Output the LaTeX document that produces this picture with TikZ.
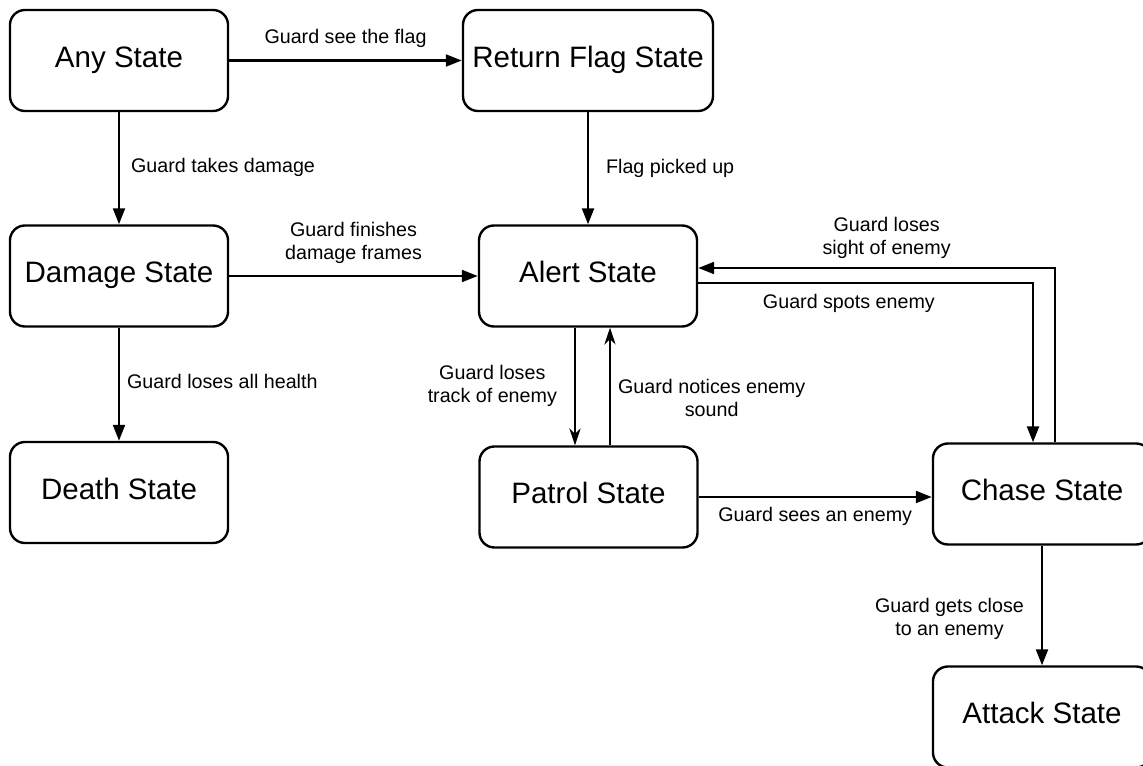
\documentclass[tikz,border=0pt]{standalone}
\usepackage{fontspec}
\setmainfont{Liberation Sans}
\usetikzlibrary{arrows.meta}
\tikzset{state/.style={draw, line width=1.7pt, rounded corners=0.375cm,
        minimum width=5.45cm, minimum height=2.525cm, inner sep=0pt,
        font=\fontsize{21}{25}\selectfont, text height=15pt, text depth=5.7pt},
    trans/.style={line width=1.6pt, -{Triangle[length=0.4cm,width=0.3cm]}},
    back/.style={line width=1.6pt, -{Stealth[length=0.42cm,width=0.28cm]}},
    lbl/.style={font=\fontsize{14}{16.6}\selectfont, align=center, inner sep=0pt},
    }
\begin{document}
\begin{tikzpicture}[x=0.025cm,y=-0.025cm]
	\useasboundingbox (0,0) rectangle (1143,766);
	\node[state] (any) at (119,60.5) {Any State};
	\node[state, minimum width=6.25cm] (ret) at (588,60.5) {Return Flag State};
	\node[state] (dmg) at (119,276) {Damage State};
	\node[state] (alert) at (588,276) {Alert State};
	\node[state] (death) at (119,492.5) {Death State};
	\node[state] (patrol) at (588.5,497) {Patrol State};
	\node[state] (chase) at (1042,494) {Chase State};
	\node[state] (attack) at (1042,717) {Attack State};
	% left column
	\draw[trans] (any) -- (ret)
		node[lbl, midway, anchor=base, yshift=0.42cm] {Guard see the flag};
	\draw[trans] (any) -- (dmg)
		node[lbl, midway, anchor=base west, xshift=0.275cm, yshift=-0.11cm] {Guard takes damage};
	\draw[trans] (dmg) -- (death)
		node[lbl, midway, anchor=base west, xshift=0.175cm, yshift=-0.11cm] {Guard loses all health};
	\draw[trans] (dmg) -- (alert)
		node[lbl, midway, yshift=0.825cm] {Guard finishes\\damage frames};
	\draw[trans] (ret) -- (alert)
		node[lbl, midway, anchor=base west, xshift=0.425cm, yshift=-0.13cm] {Flag picked up};
	% alert <-> patrol
	\draw[back] ([xshift=-0.325cm]alert.south) -- ([xshift=-0.325cm]alert.south |- patrol.north)
		node[lbl, midway, anchor=east, xshift=-0.425cm, yshift=0.02cm] {Guard loses\\track of enemy};
	\draw[back] ([xshift=0.55cm]alert.south |- patrol.north) -- ([xshift=0.55cm]alert.south)
		node[lbl, midway, anchor=west, xshift=0.175cm, yshift=-0.29cm] {Guard notices enemy\\sound};
	% alert <-> chase
	\draw[trans] ([xshift=0.325cm]chase.north) |- ([yshift=0.2cm]alert.east)
		node[lbl, pos=0.736, yshift=0.75cm] {Guard loses\\sight of enemy};
	\draw[trans] ([yshift=-0.175cm]alert.east) -| ([xshift=-0.225cm]chase.north)
		node[lbl, pos=0.225, anchor=base, yshift=-0.633cm] {Guard spots enemy};
	\draw[trans] (patrol.east) -- (patrol.east -| chase.west)
		node[lbl, midway, anchor=base, yshift=-0.6cm] {Guard sees an enemy};
	\draw[trans] (chase) -- (attack)
		node[lbl, midway, anchor=east, xshift=-0.425cm, yshift=-0.34cm] {Guard gets close\\to an enemy};
\end{tikzpicture}
\end{document}
